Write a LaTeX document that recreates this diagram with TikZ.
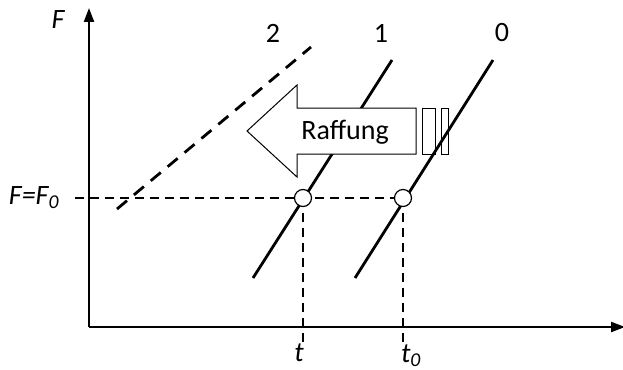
\documentclass[tikz,border=0pt]{standalone}
\usepackage{fontspec}
\setmainfont{Carlito}
\usetikzlibrary{arrows.meta}
\begin{document}
\begin{tikzpicture}[x=1pt,y=-1pt,
  axis/.style={line width=2.2pt,-{Triangle[length=14pt,width=10pt]}},
  curve/.style={line width=2.8pt},
  guide/.style={line width=1.3pt,dash pattern=on 9pt off 6pt},
  curvedash/.style={line width=2.8pt,dash pattern=on 13pt off 9pt},
  lbl/.style={font=\fontsize{28}{28}\selectfont,inner sep=0pt},
  ring/.style={circle,draw,fill=white,line width=1.2pt,minimum size=17pt,inner sep=0pt},
  boxpart/.style={draw,fill=white,line width=1pt}]
\useasboundingbox (0,0) rectangle (623,369);
% axes
\coordinate (O) at (89,327);
\coordinate (Ytip) at (89,8);
\coordinate (Xtip) at (625,327);
\draw[axis] (O) -- (Ytip);
\draw[axis] (O) -- (Xtip);
% guides
\coordinate (gl) at (75,198);
\coordinate (vb1) at (303,342);
\coordinate (vb0) at (403,342);
\coordinate (c1) at (303,198);
\coordinate (c0) at (403,198);
\draw[guide] (gl) -- (c0);
\draw[guide] (c1) -- (vb1);
\draw[guide] (c0) -- (vb0);
% line 2 dashed
\coordinate (a2) at (117,209);
\coordinate (b2) at (311,47);
\draw[curvedash] (a2) -- (b2);
% line 1
\coordinate (a1) at (253,278);
\coordinate (b1) at (392,60);
\draw[curve] (a1) -- (b1);
% big arrow
\draw[line width=1pt,fill=white] (247,131) -- (297,85) -- (297,108) -- (416,108) -- (416,154) -- (297,154) -- (297,177) -- cycle;
\node[font=\fontsize{28}{28}\selectfont,inner sep=0pt] (raff) at (345,132) {Raffung};
\draw[boxpart] (422,108) rectangle (435,154);
\draw[boxpart] (441,108) rectangle (448,154);
% line 0
\coordinate (a0) at (355,278);
\coordinate (b0) at (493,60);
\draw[curve] (a0) -- (b0);
% circles
\node[ring] (r1) at (c1) {};
\node[ring] (r0) at (c0) {};
% labels
\node[lbl] (lF) at (58,20) {\itshape F};
\node[lbl] (lFF) at (34,198) {\itshape F=F\textsubscript{0}};
\node[lbl] (l2) at (273,33) {2};
\node[lbl] (l1) at (381,33) {1};
\node[lbl] (l0) at (502,33) {0};
\node[lbl] (lt) at (299,353) {\itshape t};
\node[lbl] (lt0) at (411,356) {\itshape t\textsubscript{0}};
\node[lbl] (ltx) at (627,352) {\itshape t};
\end{tikzpicture}
\end{document}
